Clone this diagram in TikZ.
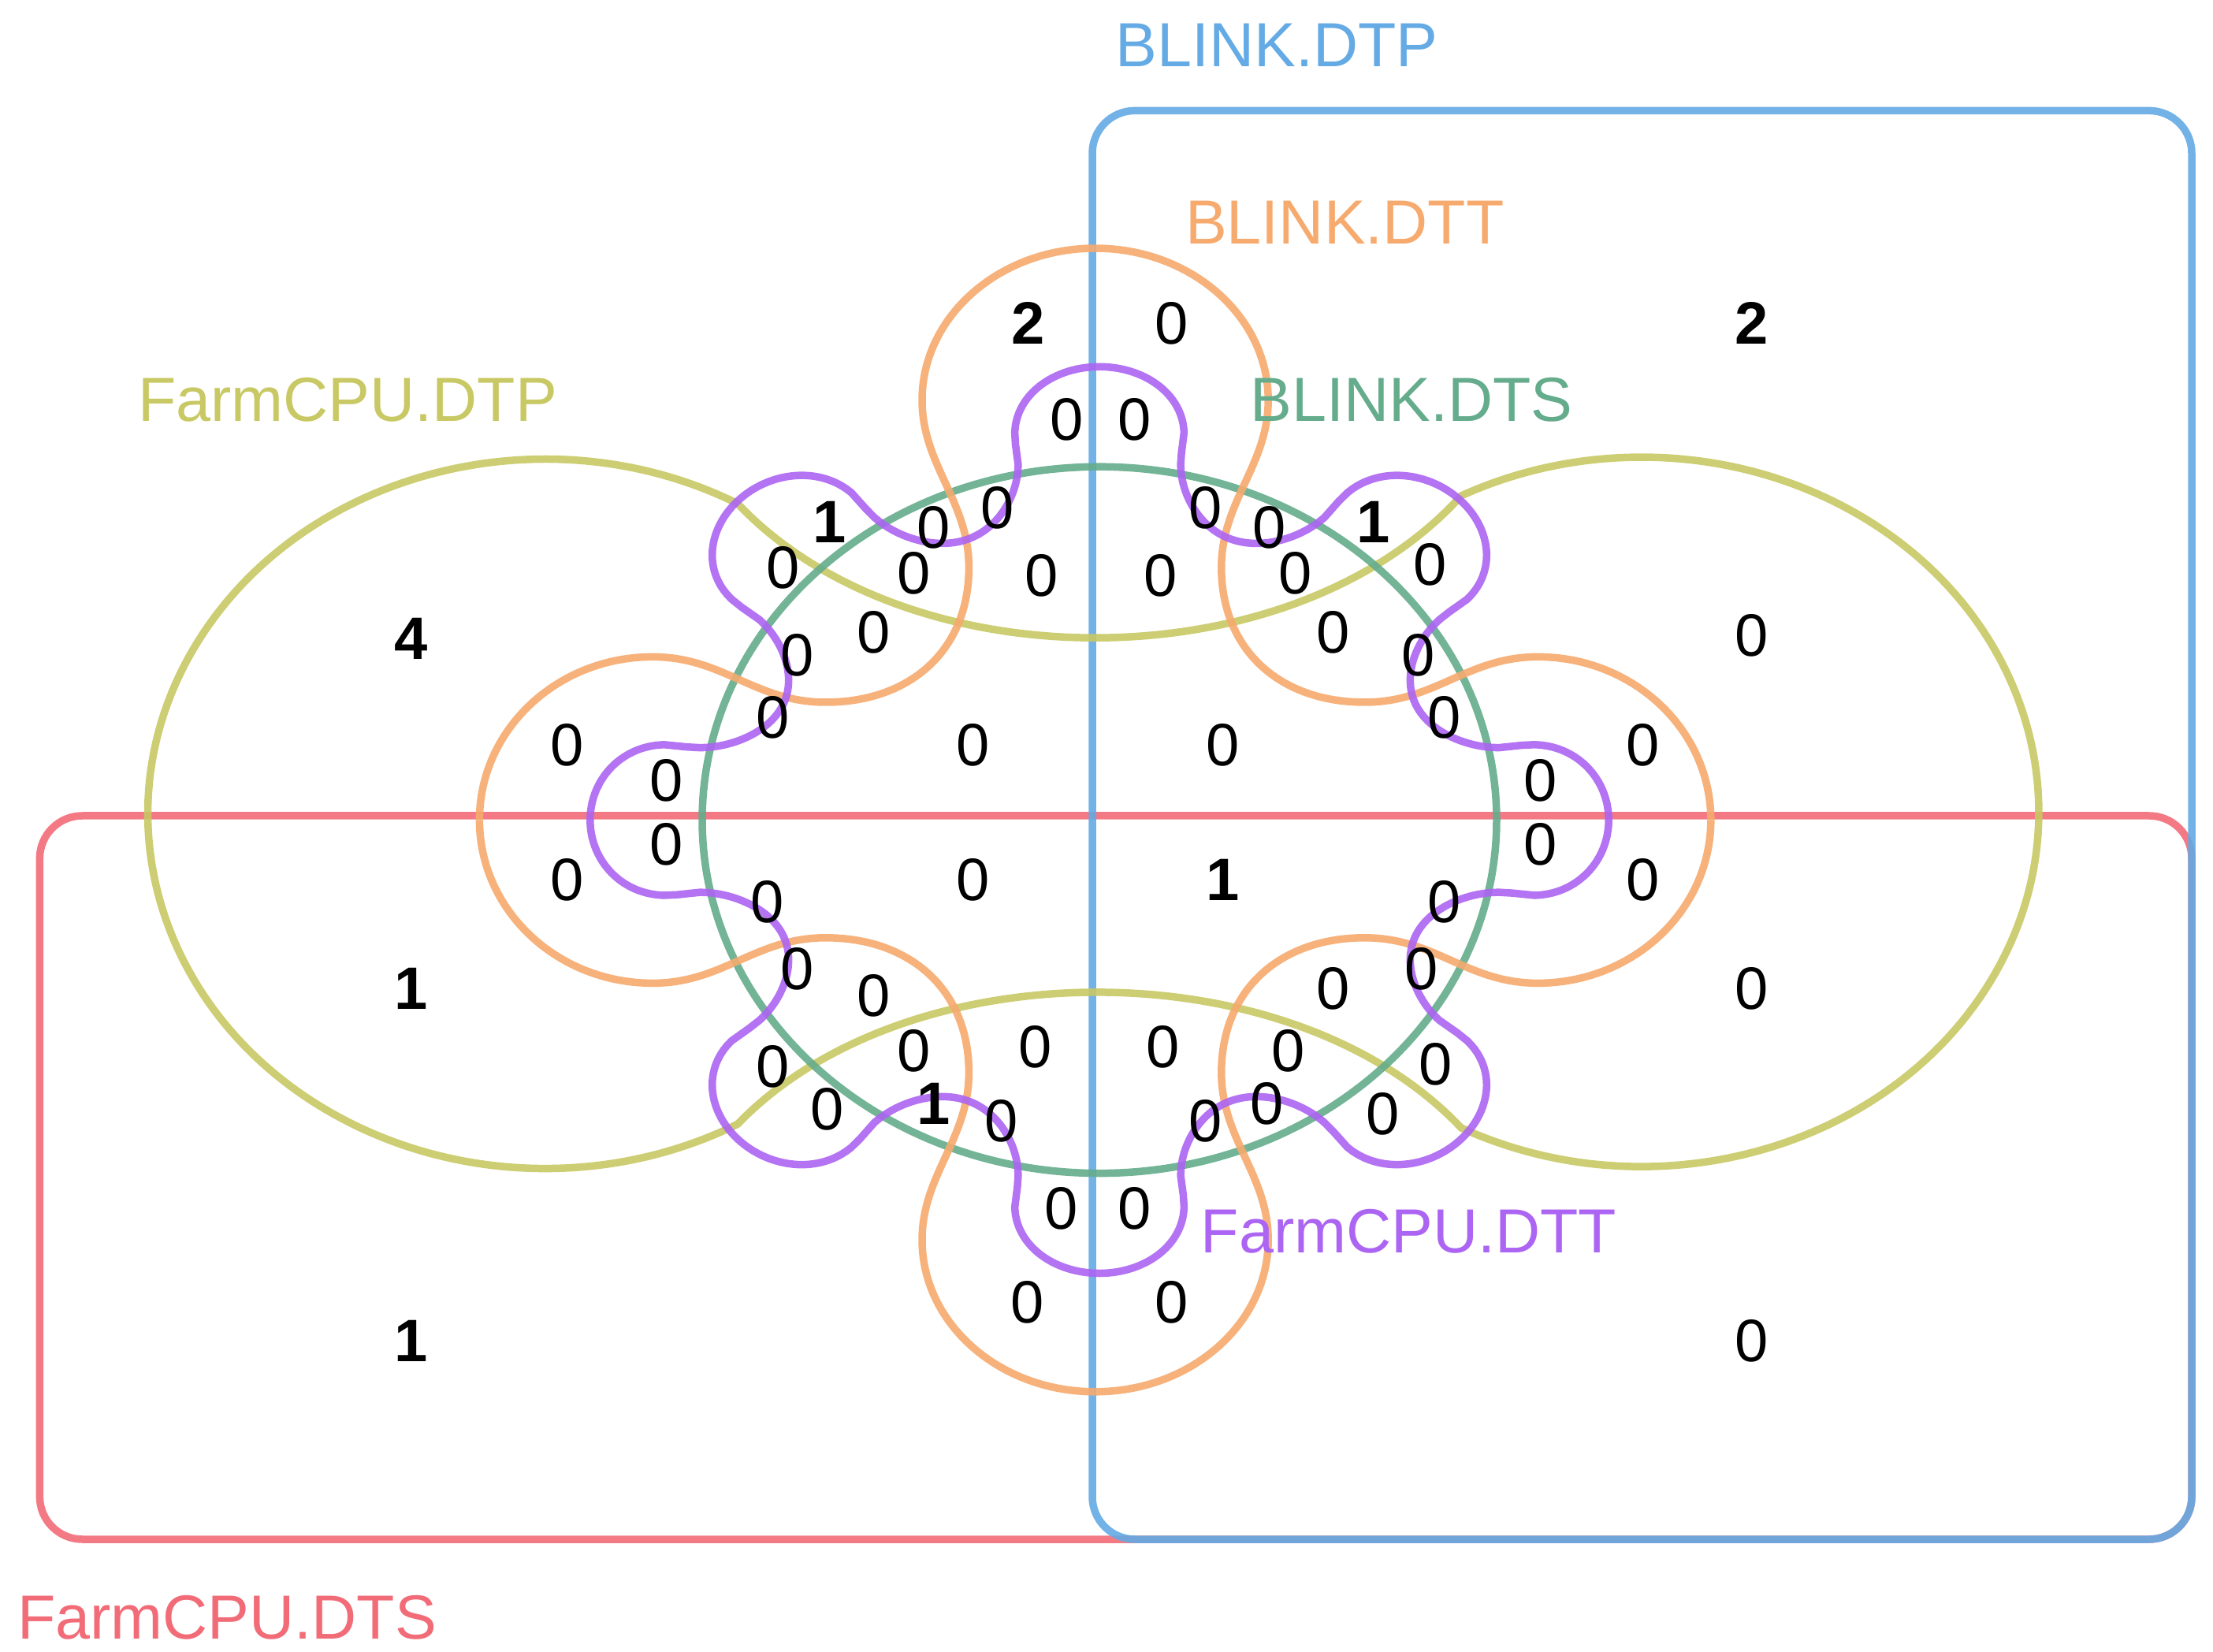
\documentclass[tikz,border=0pt]{standalone}
\usepackage{fontspec}
\setmainfont{Liberation Sans}
\usetikzlibrary{positioning}

\begin{document}
\begin{tikzpicture}[x=0.01cm,y=-0.01cm]
  % some colors
  \definecolor{dtp}{RGB}{100,170,228}
  \definecolor{dtt}{RGB}{246,170,110}
  \definecolor{dts}{RGB}{100,172,140}
  \definecolor{fdtp}{RGB}{200,200,100}
  \definecolor{fdtt}{RGB}{172,100,242}
  \definecolor{fdts}{RGB}{242,108,120}
  % some styles
  \tikzset{
    set/.style={draw=#1,line width=1.5pt,draw opacity=.9},
    num/.style={font=\fontsize{12}{14}\selectfont,inner sep=0pt},
    big/.style={num,font=\fontsize{12}{14}\selectfont\bfseries},
    setname/.style={font=\fontsize{12.5}{14}\selectfont,text=#1,inner sep=0pt},
    declare function={
      ph(\t)=mod(\t+11.25,22.5)-11.25;
      sg(\t)=1-2*mod(floor((\t+11.25)/22.5),2);
      pr(\t)=300+sg(\t)*sqrt(max(0,59^2-(300*ph(\t)*pi/180)^2));
    },
  }
  \useasboundingbox (0,0) rectangle (1560,1164);
  % rectangles
  \draw[set=fdts,rounded corners=0.3cm] (28,575) rectangle (1545,1085);
  \draw[set=dtp,rounded corners=0.3cm] (770,78) rectangle (1545,1085);
  % yellow dumbbell
  \draw[set=fdtp] (520,355) arc[start angle=-61,end angle=-299,x radius=280,y radius=250]
    .. controls (640,668) and (910,668) .. (1030,795)
    arc[start angle=117,end angle=-117,x radius=280,y radius=250]
    .. controls (910,482) and (640,482) .. (520,355) -- cycle;
  % green ellipse
  \draw[set=dts] (775,578) ellipse[x radius=280,y radius=249];
  % orange four lobes, one quarter mirrored
  \foreach \sx/\sy in {1/1,-1/1,1/-1,-1/-1}
    \draw[set=dtt,shift={(772,578)},xscale=\sx,yscale=\sy]
      (0,-403) arc[start angle=270,end angle=180,x radius=122,y radius=107]
      .. controls (-122,-250) and (-89,-225) .. (-89,-178)
      .. controls (-89,-120) and (-130,-83) .. (-190,-83)
      .. controls (-240,-83) and (-262,-115) .. (-312,-115)
      arc[start angle=270,end angle=180,x radius=122,y radius=115];
  % purple sixteen half-lobes
  \draw[set=fdtt] plot[domain=0:360,samples=1441]
    ({775+pr(\x)*cos(\x)},{578+0.89*pr(\x)*sin(\x)}) -- cycle;
  % set names
  \node[setname=dtp] (n-dtp) at (900,32) {BLINK.DTP};
  \node[setname=dtt] (n-dtt) at (948,157) {BLINK.DTT};
  \node[setname=dts] (n-dts) at (995,282) {BLINK.DTS};
  \node[setname=fdtp] (n-fdtp) at (245,282) {FarmCPU.DTP};
  \node[setname=fdtt] (n-fdtt) at (993,868) {FarmCPU.DTT};
  \node[setname=fdts] (n-fdts) at (160,1140) {FarmCPU.DTS};
  % non-zero counts
  \foreach \x/\y/\v [count=\k] in {725/228/2,1235/228/2,290/450/4,585/368/1,968/368/1,
      290/697/1,290/945/1,862/620/1,658/778/1}
    \node[big] (c-\k) at (\x,\y) {\v};
  % zero counts
  \foreach \x/\y [count=\k] in {826/228,752/296,800/296,703/358,658/372,850/358,895/372,
      552/400,644/404,734/406,818/406,913/404,1008/398,616/446,940/446,1235/448,
      562/462,1000/462,545/506,1018/506,400/525,686/525,862/525,1158/525,
      470/550,1086/550,470/595,1086/595,400/620,686/620,1158/620,541/636,1018/636,
      562/683,1002/683,616/702,940/697,1235/697,644/741,730/738,820/738,908/741,
      1012/750,545/752,583/782,706/790,850/790,893/778,975/785,748/852,800/852,
      724/918,826/918,1235/945}
    \node[num] (z-\k) at (\x,\y) {0};
\end{tikzpicture}
\end{document}
